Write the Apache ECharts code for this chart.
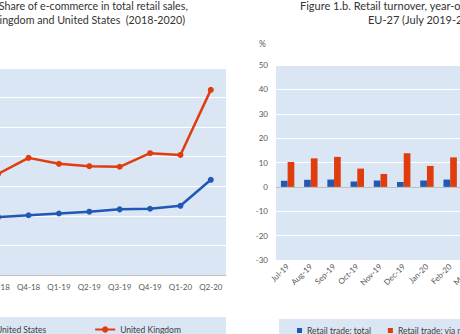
<!DOCTYPE html>
<html>
<head>
<meta charset="utf-8">
<script src="https://cdn.jsdelivr.net/npm/echarts@6/dist/echarts.min.js"></script>
<style>
  html, body { margin: 0; padding: 0; background: #ffffff; }
  #chart { width: 460px; height: 334px; }
</style>
</head>
<body>
<div id="chart"></div>
<script>
// Left chart: share of e-commerce in total retail sales (%)
var quarters = ['Q3-18', 'Q4-18', 'Q1-19', 'Q2-19', 'Q3-19', 'Q4-19', 'Q1-20', 'Q2-20'];
var usShare = [9.8, 10.1, 10.4, 10.7, 11.1, 11.2, 11.7, 16.1];
var ukShare = [17.1, 19.8, 18.8, 18.4, 18.3, 20.6, 20.3, 31.3];

// Right chart: retail turnover, year-on-year growth (%)
var months = ['Jul-19', 'Aug-19', 'Sep-19', 'Oct-19', 'Nov-19', 'Dec-19', 'Jan-20', 'Feb-20', 'Mar-20'];
var retailTotal = [2.5, 2.9, 3.0, 2.2, 2.6, 2.0, 2.6, 3.0, null];
var retailOnline = [10.2, 11.7, 12.3, 7.5, 5.3, 13.8, 8.6, 12.1, null];

var FONT = 'Lato, "Noto Sans", sans-serif';
var BLUE = '#2157b5';
var RED = '#e03c0e';
var PLOT_BG = '#dae6f3';
var LABEL = '#595959';

var chart = echarts.init(document.getElementById('chart'), null, { renderer: 'svg' });

chart.setOption({
  animation: false,
  textStyle: { fontFamily: FONT },
  title: [
    { text: 'Share of e-commerce in total retail sales,', right: 272, top: 0, padding: 0,
      textStyle: { fontSize: 10.7, fontWeight: 'normal', color: '#333333', fontFamily: FONT } },
    { text: 'United Kingdom and United States  (2018-2020)', right: 275, top: 14, padding: 0,
      textStyle: { fontSize: 10.7, fontWeight: 'normal', color: '#333333', fontFamily: FONT } },
    { text: 'Figure 1.b. Retail turnover, year-on-year growth rate,', left: 300, top: 0, padding: 0,
      textStyle: { fontSize: 11, fontWeight: 'normal', color: '#333333', fontFamily: FONT } },
    { text: 'EU-27 (July 2019-2020)', left: 368, top: 14, padding: 0,
      textStyle: { fontSize: 11, fontWeight: 'normal', color: '#333333', fontFamily: FONT } },
    { text: '%', left: 259, top: 39, padding: 0,
      textStyle: { fontSize: 8.5, fontWeight: 'normal', color: LABEL, fontFamily: FONT } }
  ],
  graphic: [
    { type: 'rect', z: -10, shape: { x: -10, y: 317, width: 236, height: 30 }, style: { fill: PLOT_BG } },
    { type: 'rect', z: -10, shape: { x: 279, y: 319, width: 200, height: 30 }, style: { fill: PLOT_BG } }
  ],
  legend: [
    {
      data: ['United States', 'United Kingdom'],
      left: -30, top: 325, padding: 0, itemGap: 48, width: 400,
      itemWidth: 20, itemHeight: 8,
      textStyle: { fontSize: 8.5, color: '#404040', fontFamily: FONT }
    },
    {
      data: ['Retail trade: total', 'Retail trade: via mail order or internet'],
      left: 297, top: 326, padding: 0, itemGap: 17, width: 400,
      icon: 'rect', itemWidth: 5, itemHeight: 5,
      textStyle: { fontSize: 8.5, color: '#404040', fontFamily: FONT }
    }
  ],
  grid: [
    { left: -17, right: 234, top: 68, bottom: 59, show: true, backgroundColor: PLOT_BG, borderWidth: 0,
      outerBoundsMode: 'none', containLabel: false },
    { left: 276, right: -25, top: 65, bottom: 74, show: true, backgroundColor: PLOT_BG, borderWidth: 0,
      outerBoundsMode: 'none', containLabel: false }
  ],
  xAxis: [
    {
      gridIndex: 0, type: 'category', data: quarters, boundaryGap: true,
      axisLine: { show: true, lineStyle: { color: '#bfbfbf', width: 1 } },
      axisTick: { show: false },
      axisLabel: { color: LABEL, fontSize: 8, margin: 8, fontFamily: FONT, interval: 0 }
    },
    {
      gridIndex: 1, type: 'category', data: months, boundaryGap: true,
      axisLine: { show: false, onZero: false },
      axisTick: { show: false },
      axisLabel: { color: LABEL, fontSize: 8, margin: 5, rotate: 45, fontFamily: FONT, interval: 0 }
    }
  ],
  yAxis: [
    {
      gridIndex: 0, type: 'value', min: 0, max: 35, interval: 5,
      axisLabel: { show: false }, axisLine: { show: false }, axisTick: { show: false },
      splitLine: { show: true, lineStyle: { color: '#ffffff', width: 1 } }
    },
    {
      gridIndex: 1, type: 'value', min: -30, max: 50, interval: 10,
      axisLine: { show: false }, axisTick: { show: false },
      axisLabel: { color: LABEL, fontSize: 8, margin: 8, fontFamily: FONT },
      splitLine: { show: true, lineStyle: { color: '#ffffff', width: 1 } }
    }
  ],
  series: [
    {
      name: 'United States', type: 'line', xAxisIndex: 0, yAxisIndex: 0, data: usShare,
      symbol: 'circle', symbolSize: 6, lineStyle: { color: BLUE, width: 2.5 },
      itemStyle: { color: BLUE }
    },
    {
      name: 'United Kingdom', type: 'line', xAxisIndex: 0, yAxisIndex: 0, data: ukShare,
      symbol: 'circle', symbolSize: 6, lineStyle: { color: RED, width: 2.5 },
      itemStyle: { color: RED }
    },
    {
      name: 'Retail trade: total', type: 'bar', xAxisIndex: 1, yAxisIndex: 1, data: retailTotal,
      barWidth: 6.7, barGap: '0%', itemStyle: { color: BLUE },
      markLine: {
        silent: true, symbol: 'none', label: { show: false },
        lineStyle: { color: '#bfbfbf', type: 'solid', width: 1 },
        data: [{ yAxis: 0 }]
      }
    },
    {
      name: 'Retail trade: via mail order or internet', type: 'bar', xAxisIndex: 1, yAxisIndex: 1, data: retailOnline,
      barWidth: 6.7, barGap: '0%', itemStyle: { color: RED }
    }
  ]
});
</script>
</body>
</html>
